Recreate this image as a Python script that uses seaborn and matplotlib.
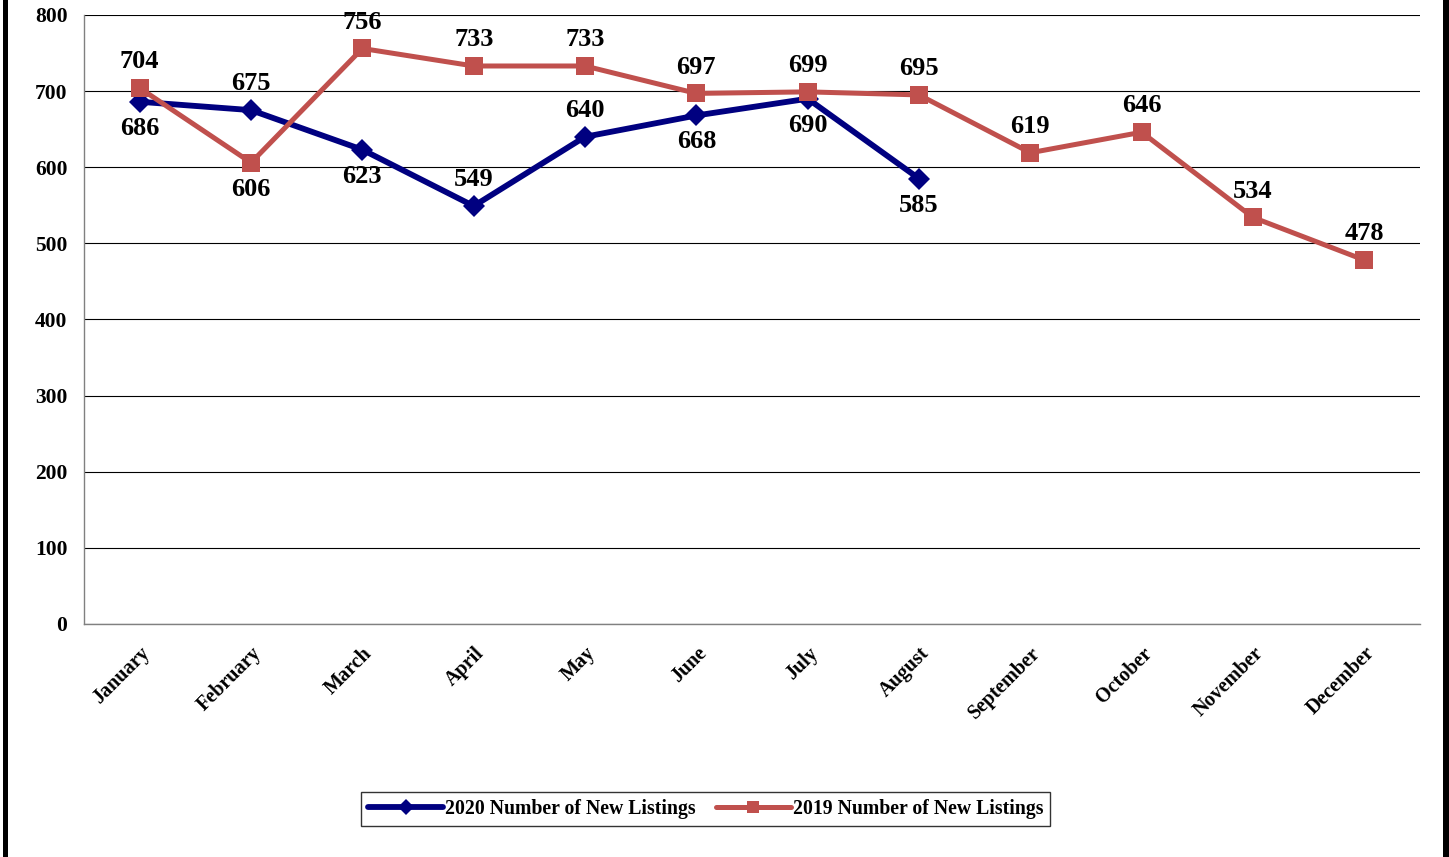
import seaborn as sns
import numpy as np
import matplotlib.pyplot as plt
import pandas as pd
from matplotlib.patches import Rectangle

months = ['January', 'February', 'March', 'April', 'May', 'June', 'July',
          'August', 'September', 'October', 'November', 'December']
listings_2020 = [686, 675, 623, 549, 640, 668, 690, 585]
listings_2019 = [704, 606, 756, 733, 733, 697, 699, 695, 619, 646, 534, 478]
# label placement: +1 above the point, -1 below
pos_2020 = [-1, 1, -1, 1, 1, -1, -1, -1]
pos_2019 = [1, -1, 1, 1, 1, 1, 1, 1, 1, 1, 1, 1]

df = pd.concat([
    pd.DataFrame({'x': range(len(listings_2020)), 'value': listings_2020,
                  'series': '2020 Number of New Listings'}),
    pd.DataFrame({'x': range(len(listings_2019)), 'value': listings_2019,
                  'series': '2019 Number of New Listings'}),
])

sns.set_style('white')
plt.rcParams['font.family'] = ['Liberation Serif', 'DejaVu Serif']
plt.rcParams['font.weight'] = 'bold'
plt.rcParams['text.color'] = 'black'
plt.rcParams['xtick.labelcolor'] = 'black'
plt.rcParams['ytick.labelcolor'] = 'black'

fig = plt.figure(figsize=(14.49, 8.57), dpi=100)
ax = fig.add_axes([0.058, 0.272, 0.922, 0.7105])

palette = {'2020 Number of New Listings': '#000080',
           '2019 Number of New Listings': '#C0504D'}
sns.lineplot(data=df[df.series.str.startswith('2020')], x='x', y='value',
             color=palette['2020 Number of New Listings'], lw=4.2, marker='D',
             markersize=11, markeredgewidth=0, ax=ax, zorder=3,
             label='2020 Number of New Listings')
sns.lineplot(data=df[df.series.str.startswith('2019')], x='x', y='value',
             color=palette['2019 Number of New Listings'], lw=3.6, marker='s',
             markersize=13, markeredgewidth=0, ax=ax, zorder=4,
             label='2019 Number of New Listings')

for vals, pos in ((listings_2020, pos_2020), (listings_2019, pos_2019)):
    for i, (v, p) in enumerate(zip(vals, pos)):
        ax.annotate(str(v), (i, v), xytext=(0, 19 * p), textcoords='offset points',
                    ha='center', va='center', fontsize=19, fontweight='bold',
                    color='black')

ax.set_xlim(-0.5, 11.5)
ax.set_ylim(0, 800)
ax.set_yticks(np.arange(0, 801, 100))
ax.set_xticks(range(12))
ax.set_xticklabels(months, rotation=45, ha='right', rotation_mode='anchor',
                   fontsize=14.5, fontweight='bold')
ax.set_xticks(np.arange(-0.5, 12, 1), minor=True)
ax.tick_params(axis='x', which='major', length=0, pad=14)
ax.tick_params(axis='x', which='minor', length=5, color='#808080', width=1)
ax.tick_params(axis='y', length=8, color='#808080', width=1, labelsize=15.5, pad=4)
for lab in ax.get_yticklabels():
    lab.set_fontweight('bold')
ax.yaxis.grid(True, color='#000000', lw=0.8)
ax.set_axisbelow(True)
for s in ['top', 'right']:
    ax.spines[s].set_visible(False)
for s in ['left', 'bottom']:
    ax.spines[s].set_color('#808080')
    ax.spines[s].set_linewidth(1)
ax.set_xlabel('')
ax.set_ylabel('')

leg = ax.legend(loc='center', bbox_to_anchor=(0.487, 0.056),
                bbox_transform=fig.transFigure, ncol=2, frameon=True,
                fancybox=False, edgecolor='#000000', handlelength=3.8,
                handletextpad=0.1, columnspacing=1.0, borderpad=0.35,
                prop={'size': 14.2, 'weight': 'bold'})
leg.get_frame().set_linewidth(1)
for h in leg.legend_handles:
    h.set_markersize(8)

fig.add_artist(Rectangle((3 / 1449, 0), 5 / 1449, 1, transform=fig.transFigure,
                         color='black', lw=0))
fig.add_artist(Rectangle((1443 / 1449, 0), 6 / 1449, 1, transform=fig.transFigure,
                         color='black', lw=0))

fig.savefig('out.png', dpi=100)
